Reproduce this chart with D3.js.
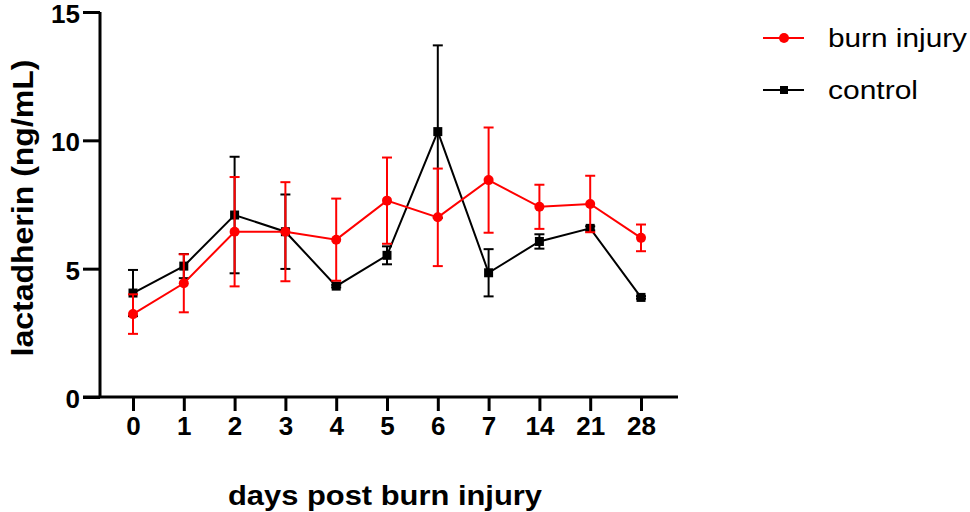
<!DOCTYPE html>
<html>
<head>
<meta charset="utf-8">
<script src="https://cdn.jsdelivr.net/npm/d3@7"></script>
<style>
  body { margin: 0; background: #fff; }
  text { font-family: "Liberation Sans", Arial, sans-serif; }
</style>
</head>
<body>
<div id="chart"></div>
<script>
// days post burn injury (categorical)
const days = ["0", "1", "2", "3", "4", "5", "6", "7", "14", "21", "28"];

// burn injury group: mean and SEM
const burnMean = [3.23, 4.43, 6.44, 6.44, 6.13, 7.65, 7.0, 8.45, 7.41, 7.52, 6.2];
const burnErr  = [0.77, 1.13, 2.13, 1.93, 1.6, 1.68, 1.9, 2.05, 0.86, 1.1, 0.52];

// control group
const ctrlMean = [4.05, 5.1, 7.09, 6.44, 4.32, 5.52, 10.34, 4.84, 6.06, 6.57, 3.88];
const ctrlErr  = [0.9, 0.47, 2.27, 1.45, 0.05, 0.35, 3.36, 0.92, 0.28, 0.08, 0.05];

const yTicks = [0, 5, 10, 15];

const width = 970, height = 512;

const svg = d3.select("#chart")
    .append("svg")
    .attr("width", width)
    .attr("height", height);

const x = d3.scalePoint().domain(days).range([133, 641]);
const y = d3.scaleLinear().domain([0, 15]).range([397, 12]);

const series = [
    { name: "control", color: "#000", mean: ctrlMean, err: ctrlErr, shape: "square" },
    { name: "burn injury", color: "#ff0000", mean: burnMean, err: burnErr, shape: "circle" }
];

// axes
const xAxis = svg.append("g")
    .attr("transform", `translate(0,${y(0)})`)
    .call(d3.axisBottom(x).tickSize(14).tickPadding(6).tickSizeOuter(0));
xAxis.select(".domain").attr("d", `M83,0H678`);

const yAxis = svg.append("g")
    .attr("transform", "translate(100,0)")
    .call(d3.axisLeft(y).tickValues(yTicks).tickSize(17).tickPadding(3).tickSizeOuter(0));
yAxis.select(".domain").attr("d", `M0,${y(15)}V${y(0)}`);

[xAxis, yAxis].forEach(g => {
    g.selectAll("path, line").attr("stroke", "#000").attr("stroke-width", 3);
    g.selectAll("text")
        .attr("fill", "#000")
        .style("font-size", "26px")
        .style("font-weight", "bold");
});
yAxis.selectAll("text").attr("dy", "0.4em");

// data
series.forEach(s => {
    const g = svg.append("g");
    const pts = days.map((d, i) => ({ day: d, v: s.mean[i], e: s.err[i] }));

    g.append("path")
        .datum(pts)
        .attr("fill", "none")
        .attr("stroke", s.color)
        .attr("stroke-width", 2)
        .attr("d", d3.line().x(d => x(d.day)).y(d => y(d.v)));

    const eb = g.selectAll(".err")
        .data(pts)
        .enter()
        .append("g")
        .attr("stroke", s.color)
        .attr("stroke-width", 2);
    eb.append("line")
        .attr("x1", d => x(d.day)).attr("x2", d => x(d.day))
        .attr("y1", d => y(d.v + d.e)).attr("y2", d => y(d.v - d.e));
    eb.append("line")
        .attr("x1", d => x(d.day) - 5).attr("x2", d => x(d.day) + 5)
        .attr("y1", d => y(d.v + d.e)).attr("y2", d => y(d.v + d.e));
    eb.append("line")
        .attr("x1", d => x(d.day) - 5).attr("x2", d => x(d.day) + 5)
        .attr("y1", d => y(d.v - d.e)).attr("y2", d => y(d.v - d.e));

    if (s.shape === "circle") {
        g.selectAll(".pt")
            .data(pts)
            .enter()
            .append("circle")
            .attr("cx", d => x(d.day))
            .attr("cy", d => y(d.v))
            .attr("r", 5)
            .attr("fill", s.color);
    } else {
        g.selectAll(".pt")
            .data(pts)
            .enter()
            .append("rect")
            .attr("x", d => x(d.day) - 4.5)
            .attr("y", d => y(d.v) - 4.5)
            .attr("width", 9)
            .attr("height", 9)
            .attr("fill", s.color);
    }
});

// axis titles
svg.append("text")
    .attr("x", 385)
    .attr("y", 505)
    .attr("text-anchor", "middle")
    .attr("textLength", 314)
    .attr("lengthAdjust", "spacingAndGlyphs")
    .style("font-size", "28px")
    .style("font-weight", "bold")
    .text("days post burn injury");

svg.append("text")
    .attr("transform", "translate(33,208) rotate(-90)")
    .attr("text-anchor", "middle")
    .attr("textLength", 297)
    .attr("lengthAdjust", "spacingAndGlyphs")
    .style("font-size", "30px")
    .style("font-weight", "bold")
    .text("lactadherin (ng/mL)");

// legend
const legend = [
    { name: "burn injury", color: "#ff0000", shape: "circle", y: 38, len: 139 },
    { name: "control", color: "#000", shape: "square", y: 90, len: 90 }
];
legend.forEach(l => {
    svg.append("line")
        .attr("x1", 763).attr("x2", 804)
        .attr("y1", l.y).attr("y2", l.y)
        .attr("stroke", l.color)
        .attr("stroke-width", 2);
    if (l.shape === "circle") {
        svg.append("circle").attr("cx", 784).attr("cy", l.y).attr("r", 5).attr("fill", l.color);
    } else {
        svg.append("rect").attr("x", 780).attr("y", l.y - 4).attr("width", 8).attr("height", 8).attr("fill", l.color);
    }
    svg.append("text")
        .attr("x", 828)
        .attr("y", l.y + 9)
        .attr("textLength", l.len)
        .attr("lengthAdjust", "spacingAndGlyphs")
        .style("font-size", "25px")
        .text(l.name);
});
</script>
</body>
</html>
